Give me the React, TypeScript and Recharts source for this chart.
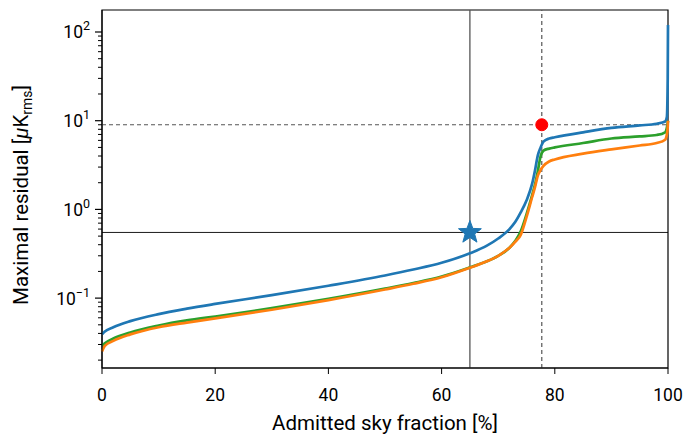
import React from 'react';
import { ComposedChart, Line, XAxis, YAxis, ReferenceLine, ReferenceDot, ReferenceArea } from 'recharts';

const SKY_FRACTION = [0, 0.5, 2, 5, 10, 15, 20, 30, 40, 50, 55, 60, 65, 68, 70, 72, 73, 74, 75, 76, 76.5, 77, 77.5, 78, 79, 80, 85, 90, 95, 98, 99.5, 99.8, 99.95, 100];
const BLUE_RES = [0.039, 0.042, 0.047, 0.055, 0.066, 0.076, 0.086, 0.108, 0.138, 0.18, 0.21, 0.25, 0.32, 0.39, 0.47, 0.6, 0.72, 0.93, 1.26, 1.95, 2.75, 4.06, 5.0, 5.8, 6.3, 6.5, 7.4, 8.3, 8.85, 9.25, 9.8, 11, 30, 120];
const GREEN_RES = [0.029, 0.031, 0.035, 0.041, 0.049, 0.056, 0.062, 0.077, 0.098, 0.128, 0.148, 0.175, 0.222, 0.26, 0.3, 0.37, 0.44, 0.57, 0.88, 1.45, 1.9, 2.7, 4.0, 4.6, 4.85, 5.0, 5.6, 6.3, 6.65, 6.9, 7.4, 8.3, 9.5, 10];
const ORANGE_RES = [0.025, 0.029, 0.033, 0.039, 0.047, 0.053, 0.059, 0.074, 0.095, 0.125, 0.145, 0.172, 0.22, 0.26, 0.3, 0.37, 0.43, 0.52, 0.82, 1.38, 1.78, 2.4, 2.8, 3.1, 3.47, 3.66, 4.25, 4.75, 5.25, 5.6, 6.1, 7.0, 8.5, 10];

const X_TICKS = [0, 20, 40, 60, 80, 100];
const Y_MAJOR = [0.1, 1, 10, 100];
const Y_MINOR = [0.02, 0.03, 0.04, 0.05, 0.06, 0.07, 0.08, 0.09, 0.2, 0.3, 0.4, 0.5, 0.6, 0.7, 0.8, 0.9, 2, 3, 4, 5, 6, 7, 8, 9, 20, 30, 40, 50, 60, 70, 80, 90];

const STAR_POINT = { x: 65, y: 0.55 };
const RED_POINT = { x: 77.7, y: 9 };

const Y_MIN = 0.0163;
const Y_MAX = 177;

const FONT = 'Roboto, "DejaVu Sans", sans-serif';

const data = SKY_FRACTION.map((x, i) => ({
  x,
  blue: BLUE_RES[i],
  green: GREEN_RES[i],
  orange: ORANGE_RES[i],
}));

const yTicks = [...Y_MAJOR, ...Y_MINOR].sort((a, b) => a - b);

const YTick = (props: any) => {
  const { x, y, payload } = props;
  const v = payload.value;
  const exp = Math.round(Math.log10(v));
  const major = Math.abs(Math.log10(v) - exp) < 1e-6;
  if (!major) {
    return <line x1={x - 4} x2={x} y1={y} y2={y} stroke="#000" strokeWidth={1} />;
  }
  return (
    <g>
      <line x1={x - 7} x2={x} y1={y} y2={y} stroke="#000" strokeWidth={1.2} />
      <text x={x - 12} y={y + 6.5} textAnchor="end" fontFamily={FONT} fontSize={17.5} fill="#000">
        10
        <tspan dy={-8} fontSize={12.5}>{exp < 0 ? '\u2212' + Math.abs(exp) : exp}</tspan>
      </text>
    </g>
  );
};

const XLabel = (props: any) => {
  const { viewBox } = props;
  return (
    <text x={viewBox.x + viewBox.width / 2} y={viewBox.y + 62} textAnchor="middle" fontFamily={FONT} fontSize={20.5} fill="#000">
      Admitted sky fraction [%]
    </text>
  );
};

const YLabel = (props: any) => {
  const { viewBox } = props;
  const cy = viewBox.y + viewBox.height / 2 + 6;
  const bx = 28;
  return (
    <text transform={`translate(${bx},${cy}) rotate(-90)`} textAnchor="middle" fontFamily={FONT} fontSize={20.5} fill="#000">
      Maximal residual [<tspan fontStyle="italic">μ</tspan>K
      <tspan dy={4} fontSize={14}>rms</tspan>
      <tspan dy={-4}>]</tspan>
    </text>
  );
};

const Star = (props: any) => {
  const { cx, cy } = props;
  const outer = 12;
  const inner = 5;
  const pts: string[] = [];
  for (let k = 0; k < 10; k++) {
    const r = k % 2 === 0 ? outer : inner;
    const a = -Math.PI / 2 + (k * Math.PI) / 5;
    pts.push(`${cx + r * Math.cos(a)},${cy + r * Math.sin(a)}`);
  }
  return <polygon points={pts.join(' ')} fill="#1f77b4" stroke="#1f77b4" strokeWidth={1} />;
};

const App: React.FC = () => {
  return (
    <div style={{ position: 'absolute', left: 0, top: 0, background: '#fff' }}>
      <ComposedChart width={687} height={436} data={data} margin={{ top: 10, right: 19, bottom: 0, left: 0 }}>
        <XAxis
          dataKey="x"
          type="number"
          domain={[0, 100]}
          ticks={X_TICKS}
          tickSize={6}
          tickMargin={15}
          height={68}
          stroke="#000"
          tick={{ fill: '#000', fontFamily: FONT, fontSize: 17.5 }}
          label={<XLabel />}
        />
        <YAxis
          type="number"
          scale="log"
          domain={[Y_MIN, Y_MAX]}
          allowDataOverflow
          ticks={yTicks}
          interval={0}
          tickSize={0}
          tickMargin={0}
          width={102}
          stroke="#000"
          tick={(p: any) => <YTick {...p} />}
          label={<YLabel />}
        />
        <ReferenceArea x1={0} x2={100} y1={Y_MIN} y2={Y_MAX} fill="none" stroke="#000" strokeWidth={1.2} ifOverflow="visible" />
        <ReferenceLine x={STAR_POINT.x} stroke="#555" strokeWidth={1.3} />
        <ReferenceLine y={STAR_POINT.y} stroke="#000" strokeWidth={0.9} />
        <ReferenceLine x={RED_POINT.x} stroke="#555" strokeWidth={1.2} strokeDasharray="4 3" />
        <ReferenceLine y={RED_POINT.y} stroke="#555" strokeWidth={1.2} strokeDasharray="4 3" />
        <Line type="monotone" dataKey="blue" stroke="#1f77b4" strokeWidth={2.7} dot={false} isAnimationActive={false} />
        <Line type="monotone" dataKey="green" stroke="#2ca02c" strokeWidth={2.7} dot={false} isAnimationActive={false} />
        <Line type="monotone" dataKey="orange" stroke="#ff7f0e" strokeWidth={2.7} dot={false} isAnimationActive={false} />
        <ReferenceDot x={STAR_POINT.x} y={STAR_POINT.y} shape={(p: any) => <Star {...p} />} />
        <ReferenceDot x={RED_POINT.x} y={RED_POINT.y} r={6} fill="#ff0000" stroke="#ff0000" />
      </ComposedChart>
    </div>
  );
};

export default App;
